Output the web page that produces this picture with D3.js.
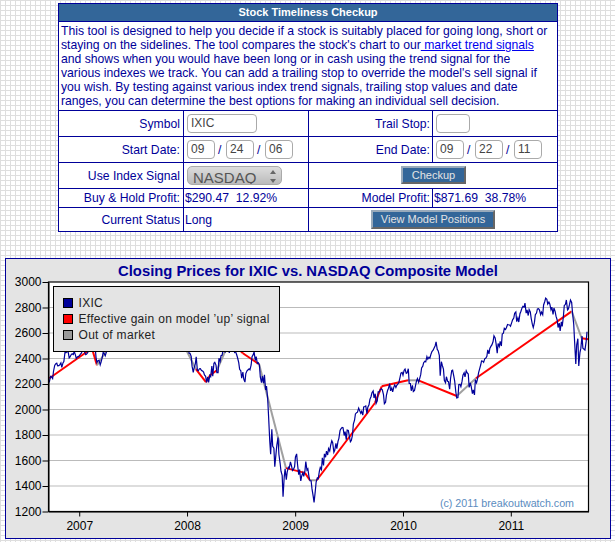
<!DOCTYPE html>
<html>
<head>
<meta charset="utf-8">
<title>Stock Timeliness Checkup</title>
<script src="https://cdn.jsdelivr.net/npm/d3@7"></script>
<style>
  html, body { margin: 0; padding: 0; }
  body {
    width: 615px; height: 542px; overflow: hidden; position: relative;
    background-color: #fff;
    background-image:
      linear-gradient(#dedede 1px, transparent 1px),
      linear-gradient(90deg, #dedede 1px, transparent 1px);
    background-size: 5px 5px;
    font-family: "Liberation Sans", Arial, sans-serif;
    color: #000099;
  }
  #tool { position: absolute; left: 58px; top: 3px; width: 500px; height: 228px; background: #fff; }
  .rule { position: absolute; background: #000099; }
  .txt { position: absolute; font-size: 12.2px; line-height: 14px; white-space: pre; }
  .lab { text-align: right; }
  .box {
    position: absolute; box-sizing: border-box; background: #fff; border: 1px solid #aaa;
    border-radius: 4px; font-size: 12px; line-height: 14px; padding: 1px 3px; color: #444;
  }
  .btn {
    position: absolute; box-sizing: border-box; background: #336699; color: #e4e4e4;
    border: 2px solid; border-color: #99aabb #666 #666 #99aabb;
    font-size: 11px; line-height: 14px; text-align: center;
  }
  .arrow { position: absolute; width: 0; height: 0; border-left: 3px solid transparent; border-right: 3px solid transparent; }
  #plot { position: absolute; left: 0; top: 0; }
</style>
</head>
<body>
<div id="tool"></div>
<svg id="plot" width="615" height="542"></svg>

<script>
/* -----------------------------------------------------
 *  Data
 ----------------------------------------------------- */
// IXIC closes, one value per Friday from 2006-09-22
const firstFriday = "2006-09-22";
const closes2006 = [2218, 2258, 2300, 2357, 2342, 2350, 2330, 2376, 2445, 2460, 2413, 2437, 2457, 2401, 2415];
const closes2007 = [2434, 2502, 2451, 2435, 2475, 2459, 2496, 2515, 2368, 2387, 2372, 2448, 2421, 2471, 2491, 2526, 2557, 2572, 2562, 2558, 2557, 2613, 2573, 2626, 2588, 2603, 2666, 2707, 2688, 2562, 2511, 2544, 2505, 2576, 2596, 2566, 2602, 2671, 2701, 2780, 2805, 2725, 2804, 2810, 2627, 2618, 2596, 2660, 2706, 2635, 2691, 2674];
const closes2008 = [2504, 2440, 2340, 2326, 2413, 2304, 2321, 2303, 2271, 2212, 2212, 2258, 2261, 2370, 2290, 2402, 2422, 2476, 2445, 2528, 2444, 2522, 2474, 2454, 2406, 2315, 2245, 2239, 2282, 2310, 2311, 2414, 2452, 2414, 2367, 2255, 2261, 2273, 2183, 1947, 1649, 1711, 1552, 1720, 1647, 1516, 1316, 1535, 1509, 1540, 1564, 1530];
const closes2009 = [1628, 1571, 1529, 1477, 1476, 1591, 1534, 1441, 1377, 1271, 1431, 1457, 1545, 1621, 1652, 1673, 1694, 1719, 1739, 1680, 1692, 1774, 1849, 1858, 1827, 1838, 1796, 1756, 1886, 1965, 1979, 1993, 1985, 2020, 2028, 2018, 2080, 2132, 2090, 2048, 2139, 2156, 2154, 2045, 2112, 2167, 2146, 2138, 2194, 2190, 2212, 2285];
const closes2010 = [2269, 2317, 2287, 2205, 2147, 2141, 2183, 2243, 2238, 2326, 2367, 2374, 2395, 2402, 2454, 2481, 2530, 2461, 2265, 2347, 2229, 2257, 2219, 2243, 2309, 2223, 2091, 2196, 2179, 2269, 2255, 2288, 2173, 2179, 2153, 2233, 2236, 2315, 2381, 2370, 2402, 2468, 2479, 2507, 2578, 2518, 2518, 2535, 2592, 2637, 2642, 2665, 2653];
const closes2011 = [2703, 2755, 2689, 2686, 2769, 2809, 2834, 2781, 2784, 2715, 2643, 2743, 2789, 2780, 2764, 2820, 2873, 2827, 2828, 2803, 2796, 2732, 2643, 2616, 2652, 2816, 2859, 2789, 2858, 2756, 2532, 2507, 2341, 2479, 2480, 2467, 2610];

// the Tuesday reading before each of those Fridays
const midweek2006 = [2222, 2261, 2243, 2346, 2363, 2344, 2366, 2365, 2452, 2452, 2405, 2431, 2431, 2428, 2413];
const midweek2007 = [2423, 2443, 2497, 2431, 2448, 2471, 2459, 2514, 2407, 2385, 2350, 2408, 2437, 2450, 2459, 2518, 2524, 2531, 2571, 2525, 2588, 2572, 2611, 2549, 2626, 2574, 2644, 2640, 2712, 2640, 2546, 2561, 2499, 2521, 2500, 2630, 2597, 2651, 2683, 2747, 2803, 2780, 2799, 2816, 2795, 2673, 2596, 2580, 2619, 2652, 2601, 2713];
const midweek2008 = [2652, 2441, 2417, 2292, 2358, 2309, 2320, 2306, 2293, 2260, 2255, 2268, 2341, 2362, 2348, 2290, 2377, 2427, 2483, 2495, 2492, 2504, 2480, 2448, 2429, 2368, 2304, 2294, 2215, 2303, 2319, 2349, 2430, 2384, 2361, 2349, 2210, 2207, 2153, 2082, 1754, 1844, 1696, 1650, 1780, 1580, 1483, 1472, 1449, 1547, 1589, 1522];
const midweek2009 = [1550, 1652, 1489, 1440, 1505, 1516, 1524, 1470, 1441, 1321, 1358, 1462, 1517, 1528, 1561, 1626, 1643, 1674, 1754, 1664, 1734, 1750, 1836, 1860, 1796, 1764, 1835, 1747, 1799, 1916, 1975, 2011, 1970, 1956, 2024, 1968, 2037, 2102, 2146, 2124, 2068, 2139, 2163, 2116, 2057, 2151, 2203, 2169, 2176, 2173, 2201, 2252];
const midweek2010 = [2291, 2308, 2283, 2320, 2204, 2190, 2150, 2226, 2213, 2273, 2340, 2378, 2415, 2410, 2436, 2465, 2500, 2471, 2424, 2375, 2317, 2210, 2222, 2159, 2305, 2262, 2135, 2094, 2197, 2222, 2288, 2304, 2278, 2209, 2124, 2114, 2209, 2289, 2349, 2379, 2399, 2417, 2436, 2497, 2533, 2562, 2442, 2494, 2498, 2599, 2627, 2667, 2663];
const midweek2011 = [2681, 2717, 2765, 2719, 2751, 2797, 2804, 2756, 2737, 2765, 2667, 2683, 2756, 2791, 2744, 2744, 2847, 2864, 2843, 2783, 2746, 2769, 2702, 2678, 2687, 2729, 2825, 2781, 2826, 2839, 2669, 2357, 2555, 2446, 2576, 2473, 2532];

// model equity curve; each state belongs to the segment ending at that date
const modelDates = ["2006-09-22", "2007-02-13", "2007-03-02", "2007-04-15", "2007-12-01", "2008-01-31", "2008-03-05", "2008-03-19", "2008-04-11", "2008-05-25", "2008-07-08", "2008-09-01", "2008-12-01", "2009-02-03", "2009-02-20", "2009-03-15", "2009-09-28", "2009-10-21", "2010-01-18", "2010-02-22", "2010-07-02", "2010-09-05", "2011-07-26", "2011-08-29", "2011-09-21"];
const modelValues = [2245, 2480, 2347, 2504, 2598, 2316, 2214, 2269, 2308, 2543, 2441, 2355, 1540, 1503, 1445, 1445, 2051, 2182, 2229, 2229, 2106, 2245, 2770, 2559, 2551];
const modelStates = ["up", "up", "up", "out", "up", "out", "up", "up", "up", "out", "up", "up", "out", "up", "up", "out", "up", "up", "up", "out", "up", "out", "up", "out", "up"];

const yTicks = [1200, 1400, 1600, 1800, 2000, 2200, 2400, 2600, 2800, 3000];
const xTickYears = [2007, 2008, 2009, 2010, 2011];
const legendLabels = ["IXIC", "Effective gain on model \u2019up\u2019 signal", "Out of market"];

const introLines = [
  "This tool is designed to help you decide if a stock is suitably placed for going long, short or",
  "staying on the sidelines. The tool compares the stock's chart to our<u> market trend signals</u>",
  "and shows when you would have been long or in cash using the trend signal for the",
  "various indexes we track. You can add a trailing stop to override the model's sell signal if",
  "you wish. By testing against various index trend signals, trailing stop values and date",
  "ranges, you can determine the best options for making an individual sell decision."
];

/* -----------------------------------------------------
 *  Tool panel above the chart
 ----------------------------------------------------- */
const tool = d3.select("#tool");

function rule(x, y, w, h) {
  tool.append("div").attr("class", "rule")
    .style("left", x + "px").style("top", y + "px")
    .style("width", w + "px").style("height", h + "px");
}
function label(text, right, y) {
  tool.append("div").attr("class", "txt lab")
    .style("right", 500 - right + "px").style("top", y + "px").text(text);
}
function plain(text, x, y) {
  tool.append("div").attr("class", "txt").style("left", x + "px").style("top", y + "px").text(text);
}
function box(text, x, y, w, h) {
  tool.append("div").attr("class", "box")
    .style("left", x + "px").style("top", y + "px")
    .style("width", w + "px").style("height", h + "px").text(text);
}
function button(text, x, y, w, h) {
  tool.append("div").attr("class", "btn")
    .style("left", x + "px").style("top", y + "px")
    .style("width", w + "px").style("height", h + "px").text(text);
}

// header band
tool.append("div")
  .style("position", "absolute").style("left", "0px").style("top", "0px")
  .style("width", "500px").style("height", "18px").style("background", "#336699")
  .style("color", "#fff").style("font", "bold 11px 'Liberation Sans'")
  .style("line-height", "18px").style("text-align", "center")
  .text("Stock Timeliness Checkup");

// intro paragraph
introLines.forEach((line, i) => {
  const row = tool.append("div").attr("class", "txt")
    .style("left", "3px").style("top", 21 + i * 14 + "px").html(line);
  row.selectAll("u").style("color", "#0000ee");
});

// table rules
[0, 18, 107, 133, 159, 185, 204, 228].forEach((y) => rule(0, y, 500, 1));
rule(0, 0, 1, 229);
rule(499, 0, 1, 229);
rule(125, 107, 1, 121);
rule(250, 107, 1, 121);
rule(374, 107, 1, 52);
rule(374, 185, 1, 19);

label("Symbol", 122, 114);
box("IXIC", 129, 111, 70, 19);
label("Trail Stop:", 372, 114);
box("", 378, 111, 34, 19);

label("Start Date:", 122, 140);
box("09", 129, 137, 28, 19);
plain("/", 160, 140);
box("24", 168, 137, 28, 19);
plain("/", 199, 140);
box("06", 207, 137, 28, 19);
label("End Date:", 372, 140);
box("09", 378, 137, 28, 19);
plain("/", 409, 140);
box("22", 417, 137, 28, 19);
plain("/", 448, 140);
box("11", 456, 137, 28, 19);

label("Use Index Signal", 122, 166);
tool.append("div")
  .style("position", "absolute").style("box-sizing", "border-box")
  .style("left", "129px").style("top", "163px").style("width", "95px").style("height", "19px")
  .style("border", "1px solid #aaa").style("border-radius", "5px").style("overflow", "hidden")
  .style("background", "linear-gradient(#ddd, #bbb)").style("color", "#555")
  .style("font", "15px 'Liberation Sans'").style("line-height", "22px").style("padding-left", "5px")
  .text("NASDAQ");
tool.append("div").attr("class", "arrow")
  .style("left", "212px").style("top", "167px").style("border-bottom", "4px solid #666");
tool.append("div").attr("class", "arrow")
  .style("left", "212px").style("top", "176px").style("border-top", "4px solid #666");
button("Checkup", 343, 163, 65, 18);

label("Buy & Hold Profit:", 122, 188);
plain("$290.47  12.92%", 127, 188);
label("Model Profit:", 372, 188);
plain("$871.69  38.78%", 376, 188);

label("Current Status", 122, 210);
plain("Long", 127, 210);
button("View Model Positions", 313, 207, 124, 19);

/* -----------------------------------------------------
 *  Chart setup
 ----------------------------------------------------- */
const svg = d3.select("#plot");
const parseDay = d3.utcParse("%Y-%m-%d");

const plotLeft = 48.5;
const plotRight = 588.5;
const plotTop = 282;
const plotBottom = 511.5;

const x = d3
  .scaleUtc()
  .domain([parseDay("2006-09-19"), parseDay("2011-09-21")])
  .range([plotLeft, plotRight]);
const y = d3.scaleLinear().domain([1200, 3000]).range([plotBottom, plotTop]);

svg.append("rect")
  .attr("x", 5.5).attr("y", 258.5).attr("width", 605).attr("height", 280)
  .attr("fill", "#e4e4e4").attr("stroke", "#000099");

svg.append("rect")
  .attr("x", plotLeft).attr("y", plotTop)
  .attr("width", plotRight - plotLeft).attr("height", plotBottom - plotTop)
  .attr("fill", "#fff");

svg.append("text")
  .attr("x", 308).attr("y", 276).attr("text-anchor", "middle")
  .attr("fill", "#000099")
  .style("font", "bold 14.8px 'Liberation Sans'")
  .text("Closing Prices for IXIC vs. NASDAQ Composite Model");

// gridlines
svg.selectAll(".grid")
  .data(yTicks.slice(1, -1))
  .enter()
  .append("line")
  .attr("class", "grid")
  .attr("x1", plotLeft).attr("x2", plotRight)
  .attr("y1", (d) => y(d)).attr("y2", (d) => y(d))
  .attr("stroke", "#bbb").attr("stroke-width", 1);

/* -----------------------------------------------------
 *  Model line, one piece per segment so colour can change
 ----------------------------------------------------- */
const dateLine = d3.line().x((d) => x(d.date)).y((d) => y(d.value));
const modelPoints = modelDates.map((d, i) => ({ date: parseDay(d), value: modelValues[i], state: modelStates[i] }));

svg.selectAll(".model")
  .data(d3.pairs(modelPoints))
  .enter()
  .append("path")
  .attr("class", "model")
  .attr("d", (d) => dateLine(d))
  .attr("fill", "none")
  .attr("stroke", (d) => (d[1].state === "up" ? "#ff0000" : "#a0a0a0"))
  .attr("stroke-width", 2);

/* -----------------------------------------------------
 *  IXIC closes, Tuesdays and Fridays merged in date order
 ----------------------------------------------------- */
const closes = [].concat(closes2006, closes2007, closes2008, closes2009, closes2010, closes2011);
const midweek = [].concat(midweek2006, midweek2007, midweek2008, midweek2009, midweek2010, midweek2011);
const closePoints = [];
closes.forEach((value, i) => {
  const friday = d3.utcDay.offset(parseDay(firstFriday), i * 7);
  closePoints.push({ date: d3.utcDay.offset(friday, -3), value: midweek[i] });
  closePoints.push({ date: friday, value: value });
});

svg.append("path")
  .datum(closePoints)
  .attr("d", dateLine)
  .attr("fill", "none")
  .attr("stroke", "#000099")
  .attr("stroke-width", 1.2);

/* -----------------------------------------------------
 *  Axes
 ----------------------------------------------------- */
const yAxis = svg.append("g")
  .attr("transform", `translate(${plotLeft},0)`)
  .call(d3.axisLeft(y).tickValues(yTicks).tickSize(6).tickSizeOuter(0).tickPadding(1).tickFormat(d3.format("d")));
const xAxis = svg.append("g")
  .attr("transform", `translate(0,${plotBottom})`)
  .call(d3.axisBottom(x)
    .tickValues(xTickYears.map((d) => new Date(Date.UTC(d, 0, 1))))
    .tickSize(5).tickSizeOuter(0).tickPadding(5).tickFormat(d3.utcFormat("%Y")));

[yAxis, xAxis].forEach((axis) => {
  axis.selectAll("text")
    .attr("fill", "#000")
    .style("font", "12px 'Liberation Sans'");
  axis.selectAll("line, path").attr("stroke", "#000");
});

svg.append("rect")
  .attr("x", plotLeft).attr("y", plotTop)
  .attr("width", plotRight - plotLeft).attr("height", plotBottom - plotTop)
  .attr("fill", "none").attr("stroke", "#000").attr("stroke-width", 1.2);

svg.append("text")
  .attr("x", 574).attr("y", 507).attr("text-anchor", "end")
  .attr("fill", "#5b8cc0")
  .style("font", "10.7px 'Liberation Sans'")
  .text("(c) 2011 breakoutwatch.com");

/* -----------------------------------------------------
 *  Legend
 ----------------------------------------------------- */
const legendColors = ["#000099", "#ff0000", "#999999"];

svg.append("rect")
  .attr("x", 53.5).attr("y", 286.5).attr("width", 226).attr("height", 65)
  .attr("fill", "#e4e4e4").attr("stroke", "#000");

svg.selectAll(".swatch")
  .data(legendLabels)
  .enter()
  .append("rect")
  .attr("class", "swatch")
  .attr("x", 63.5).attr("y", (d, i) => 298.5 + i * 16)
  .attr("width", 9).attr("height", 9)
  .attr("fill", (d, i) => legendColors[i])
  .attr("stroke", "#000");

svg.selectAll(".legendText")
  .data(legendLabels)
  .enter()
  .append("text")
  .attr("class", "legendText")
  .attr("x", 78.5).attr("y", (d, i) => 307 + i * 16)
  .attr("fill", "#222")
  .style("font", "12px 'Liberation Sans'")
  .style("letter-spacing", "0.3px")
  .text((d) => d);
</script>
</body>
</html>
